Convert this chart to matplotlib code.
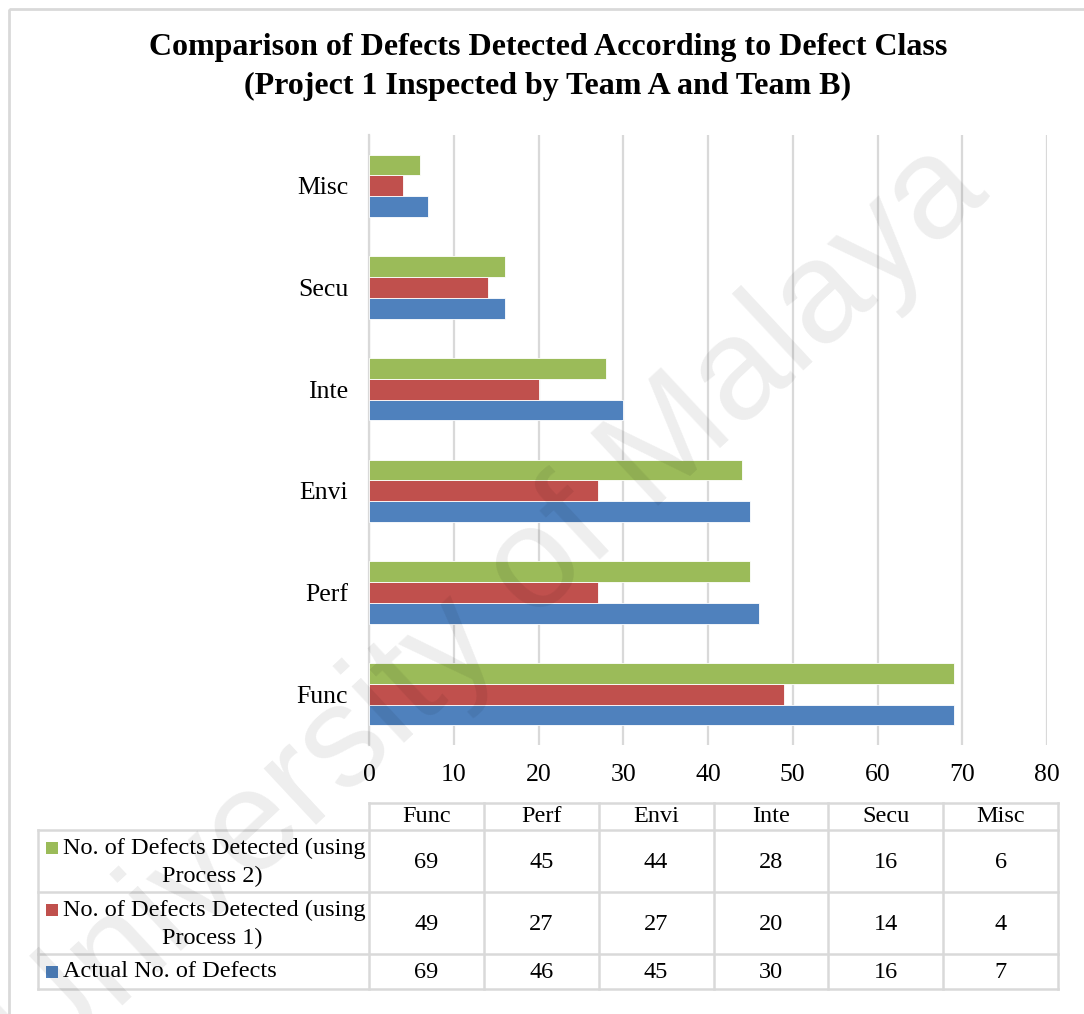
import numpy as np
import matplotlib.pyplot as plt
from matplotlib.patches import Rectangle

# defect classes, bottom to top on the chart
classes = ['Func', 'Perf', 'Envi', 'Inte', 'Secu', 'Misc']
actual = [69, 46, 45, 30, 16, 7]
process1 = [49, 27, 27, 20, 14, 4]
process2 = [69, 45, 44, 28, 16, 6]

series_names = ['No. of Defects Detected (using\nProcess 2)',
                'No. of Defects Detected (using\nProcess 1)',
                'Actual No. of Defects']
series_vals = [process2, process1, actual]
series_cols = ['#9BBB59', '#C0504D', '#4F81BD']

W, H = 1084, 1014
plt.rcParams['font.family'] = ['Liberation Serif', 'DejaVu Serif']
grid_col = '#d9d9d9'

fig = plt.figure(figsize=(W / 100, H / 100), dpi=100)
fig.patch.set_facecolor('white')

# background layer in pixel units: frame and data table
bg = fig.add_axes([0, 0, 1, 1])
bg.set_xlim(0, W)
bg.set_ylim(H, 0)
bg.axis('off')
bg.add_patch(Rectangle((9, 9), W + 20, H + 20, fill=False, ec=grid_col, lw=2))

# bar chart
ax = fig.add_axes([369 / W, 1 - 745 / H, (1047 - 369) / W, (745 - 135) / H])
ax.set_facecolor('none')
y = np.arange(len(classes))
bh = 0.204
ax.barh(y - bh, actual, height=bh, color=series_cols[2], edgecolor='white', lw=0.6, zorder=3)
ax.barh(y, process1, height=bh, color=series_cols[1], edgecolor='white', lw=0.6, zorder=3)
ax.barh(y + bh, process2, height=bh, color=series_cols[0], edgecolor='white', lw=0.6, zorder=3)
ax.set_xlim(0, 80)
ax.set_ylim(-0.5, len(classes) - 0.5)
ax.set_xticks(np.arange(0, 81, 10))
ax.set_yticks(y)
ax.set_yticklabels(classes)
ax.xaxis.grid(True, color=grid_col, lw=1.6, zorder=0)
ax.set_axisbelow(True)
for s in ['top', 'right', 'bottom']:
    ax.spines[s].set_visible(False)
ax.spines['left'].set_color(grid_col)
ax.spines['left'].set_linewidth(1.6)
ax.tick_params(axis='both', length=0, labelsize=18.5)
ax.tick_params(axis='x', pad=14)
ax.tick_params(axis='y', pad=15)

# title
fig.text(548 / W, 1 - 48 / H, 'Comparison of Defects Detected According to Defect Class',
         ha='center', va='center', fontsize=23, fontweight='bold')
fig.text(548 / W, 1 - 86 / H, '(Project 1 Inspected by Team A and Team B)',
         ha='center', va='center', fontsize=23, fontweight='bold')

# data table
col_x = np.linspace(369, 1058, len(classes) + 1)
row_y = [830, 892, 954, 989]
tfs = 17.5
lw_t = 1.8
# header row
bg.plot([col_x[0], col_x[-1]], [803, 803], color=grid_col, lw=lw_t)
for cx in col_x:
    bg.plot([cx, cx], [803, row_y[-1]], color=grid_col, lw=lw_t)
bg.plot([38, 38], [row_y[0], row_y[-1]], color=grid_col, lw=lw_t)
for ry in row_y:
    bg.plot([38, col_x[-1]], [ry, ry], color=grid_col, lw=lw_t)
for i, c in enumerate(classes):
    bg.text((col_x[i] + col_x[i + 1]) / 2, 817, c, ha='center', va='center', fontsize=tfs)

for r, (name, vals, col) in enumerate(zip(series_names, series_vals, series_cols)):
    top, bot = row_y[r], row_y[r + 1]
    mid = (top + bot) / 2
    for i, v in enumerate(vals):
        bg.text((col_x[i] + col_x[i + 1]) / 2, mid + 1, str(v), ha='center', va='center', fontsize=tfs)
    if '\n' in name:
        first, second = name.split('\n')
        bg.text(63, mid - 13, first, ha='left', va='center', fontsize=tfs)
        bg.text(212, mid + 15, second, ha='center', va='center', fontsize=tfs)
        ky = mid - 13
    else:
        bg.text(63, mid, name, ha='left', va='center', fontsize=tfs)
        ky = mid
    bg.add_patch(Rectangle((46, ky - 6), 12, 12, color=col, lw=0))

# watermark
fig.text(490 / W, 1 - 612 / H, 'University of Malaya', rotation=43, rotation_mode='anchor',
         ha='center', va='center', fontsize=104, family='Liberation Sans',
         color='black', alpha=0.07, zorder=10)

fig.savefig('out.png', dpi=100, facecolor='white')
